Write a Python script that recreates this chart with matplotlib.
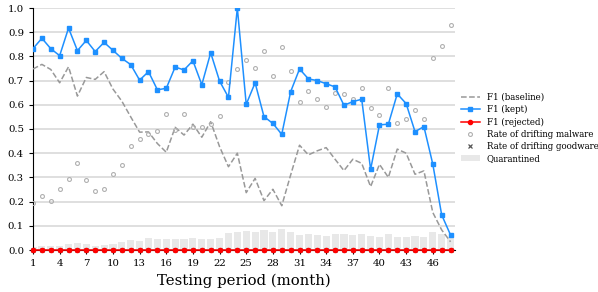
import matplotlib
matplotlib.use("Agg")
import matplotlib.pyplot as plt

months = list(range(1, 49))

f1_kept = [0.832, 0.875, 0.832, 0.803, 0.917, 0.824, 0.866, 0.820, 0.858, 0.825,
           0.792, 0.766, 0.702, 0.737, 0.662, 0.668, 0.756, 0.744, 0.782, 0.683,
           0.815, 0.698, 0.631, 1.000, 0.602, 0.691, 0.551, 0.523, 0.478, 0.654,
           0.748, 0.707, 0.700, 0.687, 0.674, 0.598, 0.613, 0.623, 0.333, 0.517,
           0.520, 0.645, 0.605, 0.489, 0.510, 0.355, 0.145, 0.062]

f1_baseline = [0.748, 0.767, 0.746, 0.691, 0.757, 0.636, 0.713, 0.705, 0.737, 0.665,
               0.615, 0.550, 0.487, 0.488, 0.440, 0.404, 0.507, 0.475, 0.520, 0.466,
               0.530, 0.427, 0.344, 0.400, 0.237, 0.296, 0.204, 0.251, 0.183, 0.310,
               0.433, 0.393, 0.410, 0.423, 0.375, 0.328, 0.375, 0.358, 0.262, 0.354,
               0.300, 0.417, 0.400, 0.313, 0.327, 0.155, 0.083, 0.034]

f1_rejected = [0.0] * 48

malware_rate = [0.196, 0.223, 0.204, 0.251, 0.293, 0.361, 0.289, 0.245, 0.253, 0.315,
                0.353, 0.431, 0.459, 0.479, 0.492, 0.563, 0.496, 0.561, 0.507, 0.507,
                0.521, 0.555, 0.696, 0.749, 0.787, 0.751, 0.824, 0.719, 0.840, 0.740,
                0.613, 0.658, 0.625, 0.590, 0.649, 0.646, 0.625, 0.668, 0.587, 0.559,
                0.669, 0.526, 0.543, 0.577, 0.543, 0.793, 0.842, 0.930]

goodware_rate = [0.0] * 48

quarantined = [0.012, 0.017, 0.017, 0.018, 0.025, 0.029, 0.025, 0.017, 0.021, 0.026,
               0.034, 0.041, 0.038, 0.048, 0.045, 0.045, 0.045, 0.045, 0.050, 0.046,
               0.045, 0.050, 0.070, 0.074, 0.080, 0.076, 0.083, 0.073, 0.087, 0.074,
               0.060, 0.066, 0.062, 0.058, 0.065, 0.065, 0.060, 0.066, 0.058, 0.054,
               0.066, 0.052, 0.054, 0.058, 0.054, 0.074, 0.065, 0.055]

xticks = list(range(1, 49, 3))
yticks = [0.0, 0.1, 0.2, 0.3, 0.4, 0.5, 0.6, 0.7, 0.8, 0.9, 1.0]

plt.rcParams['font.family'] = 'DejaVu Serif'

fig = plt.figure(figsize=(5.98, 2.92), dpi=100)
ax = fig.add_axes([33 / 598, 1 - 250 / 292, (455 - 33) / 598, (250 - 8) / 292])

ax.bar(months, quarantined, width=0.8, color='#e8e8e8', label='Quarantined', zorder=1)
ax.plot(months, f1_baseline, linestyle='--', color='#999999', linewidth=1.1,
        label='F1 (baseline)', zorder=3)
ax.plot(months, f1_kept, color='#1e90ff', marker='s', markersize=3.5, linewidth=1.1,
        label='F1 (kept)', zorder=4)
ax.plot(months, goodware_rate, linestyle='none', marker='x', markersize=3,
        color='#555555', markeredgewidth=0.9, label='Rate of drifting goodware',
        zorder=4, clip_on=False)
ax.plot(months, f1_rejected, color='red', marker='o', markersize=3, linewidth=1.1,
        label='F1 (rejected)', zorder=5, clip_on=False)
ax.plot(months, malware_rate, linestyle='none', marker='o', markersize=2.8,
        markerfacecolor='none', markeredgecolor='#b0b0b0', markeredgewidth=0.8,
        label='Rate of drifting malware', zorder=3)

ax.set_xlim(1, 48.5)
ax.set_ylim(0, 1.0)
ax.set_xticks(xticks)
ax.set_yticks(yticks)
ax.tick_params(labelsize=7.3, length=3, width=0.8)
ax.yaxis.grid(True, color='#d9d9d9', linewidth=1.2)
ax.set_axisbelow(True)
for s in ['top', 'right']:
    ax.spines[s].set_visible(False)
ax.spines['bottom'].set_color('black')
ax.set_xlabel('Testing period (month)', fontsize=10.7, labelpad=4)

handles, labels = ax.get_legend_handles_labels()
order = ['F1 (baseline)', 'F1 (kept)', 'F1 (rejected)', 'Rate of drifting malware',
         'Rate of drifting goodware', 'Quarantined']
h = [handles[labels.index(l)] for l in order]
fig.legend(h, order, loc='upper left', bbox_to_anchor=(459 / 598, 1 - 91 / 292),
           frameon=False, fontsize=6.2, handlelength=2.2, labelspacing=0.38,
           borderaxespad=0, borderpad=0.2, handletextpad=0.8)

fig.savefig('out.png', dpi=100)
